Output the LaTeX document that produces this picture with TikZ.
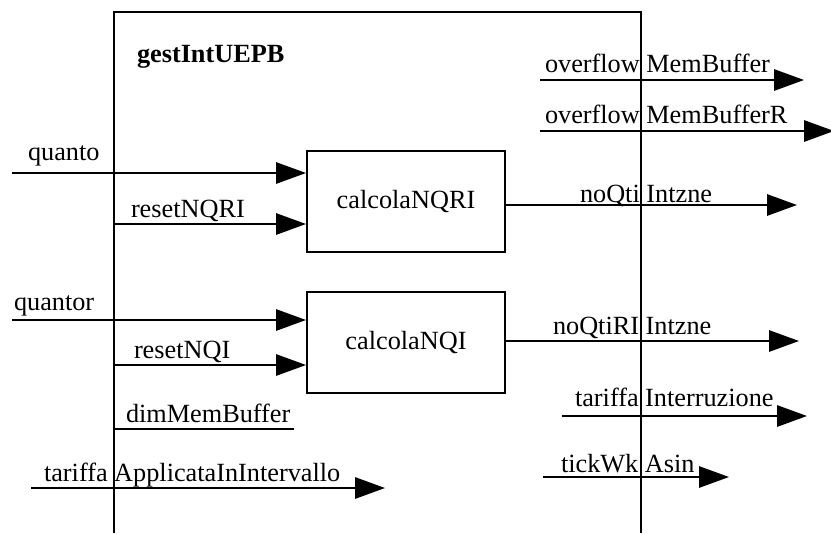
\documentclass[tikz,border=0pt]{standalone}
\usepackage{fontspec}
\setmainfont{Liberation Serif}
\usetikzlibrary{arrows.meta}
\begin{document}
\begin{tikzpicture}[>={Triangle[length=22.5pt,width=16pt]},x=0.75pt,y=-0.75pt,line width=1.5pt,
		lbl/.style={anchor=base west,inner sep=0pt,font=\fontsize{19.7pt}{23pt}\selectfont},
		blk/.style={draw,minimum width=148.5pt,minimum height=75.75pt,inner sep=0pt,font=\fontsize{19.7pt}{23pt}\selectfont}]
		\useasboundingbox (0,0) rectangle (831,533);
		% contorno del modulo
		\draw (114,533) -- (114,12) -- (641,12) -- (641,533);
		\node[lbl] (titolo) at (136,62) {\bfseries gestIntUEPB};
		% blocchi interni
		\node[blk] (nqri) at (406,201.5) {calcolaNQRI};
		\node[blk] (nqi) at (406,342.5) {calcolaNQI};
		% ingressi
		\coordinate (qa) at (12,173);
		\coordinate (rq) at (114,224);
		\coordinate (qr) at (12,320);
		\coordinate (rn) at (114,365);
		\draw[->] (qa) -- (qa -| nqri.west);
		\draw[->] (rq) -- (rq -| nqri.west);
		\draw[->] (qr) -- (qr -| nqi.west);
		\draw[->] (rn) -- (rn -| nqi.west);
		\node[lbl] (lqa) at (27,160) {quanto};
		\node[lbl] (lrq) at (130,217) {resetNQRI};
		\node[lbl] (lqr) at (13,310) {quantor};
		\node[lbl] (lrn) at (133,358) {resetNQI};
		\coordinate (dm1) at (114,429);
		\coordinate (dm2) at (294,429);
		\draw (dm1) -- (dm2);
		\node[lbl] (ldm) at (125,422) {dimMemBuffer};
		\coordinate (ta1) at (31,488);
		\coordinate (ta2) at (385,488);
		\draw[->] (ta1) -- (ta2);
		\node[lbl] (lta) at (43,481) {tariffa ApplicataInIntervallo};
		% uscite
		\coordinate (om1) at (540,80);
		\coordinate (om2) at (804,80);
		\coordinate (or1) at (540,131);
		\coordinate (or2) at (834,131);
		\coordinate (no) at (797,205);
		\coordinate (nr) at (799,341);
		\coordinate (ti1) at (562,416);
		\coordinate (ti2) at (807,416);
		\coordinate (tw1) at (543,477);
		\coordinate (tw2) at (729,477);
		\draw[->] (om1) -- (om2);
		\draw[->] (or1) -- (or2);
		\draw[->] (no -| nqri.east) -- (no);
		\draw[->] (nr -| nqi.east) -- (nr);
		\draw[->] (ti1) -- (ti2);
		\draw[->] (tw1) -- (tw2);
		\node[lbl] (lom) at (544,72) {overflow MemBuffer};
		\node[lbl] (lor) at (544,123) {overflow MemBufferR};
		\node[lbl] (lno) at (579,202) {noQti Intzne};
		\node[lbl] (lnr) at (552,334) {noQtiRI Intzne};
		\node[lbl] (lti) at (574,406) {tariffa Interruzione};
		\node[lbl] (ltw) at (560,472) {tickWk Asin};
\end{tikzpicture}
\end{document}
